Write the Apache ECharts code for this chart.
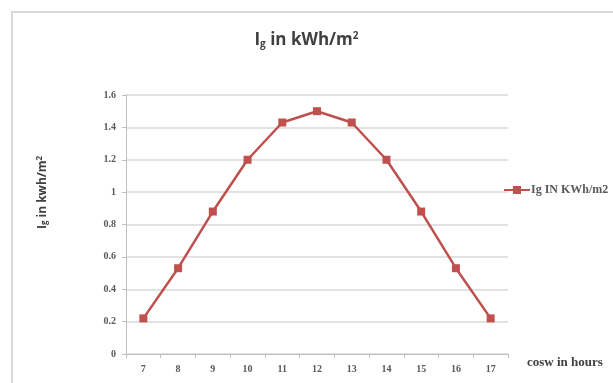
<!DOCTYPE html>
<html>
<head>
<meta charset="utf-8">
<script src="https://cdn.jsdelivr.net/npm/echarts@6/dist/echarts.min.js"></script>
<style>
	html, body { margin: 0; padding: 0; background: #fff; }
	#chart { width: 613px; height: 383px; }
</style>
</head>
<body>
<div id="chart"></div>
<script>
	// data
	var hours = ['7', '8', '9', '10', '11', '12', '13', '14', '15', '16', '17'];
	var igValues = [0.22, 0.53, 0.88, 1.20, 1.43, 1.50, 1.43, 1.20, 0.88, 0.53, 0.22];
	var seriesName = 'Ig IN KWh/m2';

	var myChart = echarts.init(document.getElementById('chart'));

	var serif = '"Liberation Serif", "DejaVu Serif", serif';
	var sans = '"Open Sans", "Noto Sans", sans-serif';

	var option = {
		animation: false,
		backgroundColor: '#fff',
		graphic: [{
			type: 'rect',
			shape: { x: 12, y: 12, width: 700, height: 500 },
			style: { fill: 'none', stroke: '#d9d9d9', lineWidth: 2 },
			silent: true
		}],
		title: {
			left: 'center',
			top: 26,
			text: '{b|I}{s|g}{b| in kWh/m}{p|2}',
			textStyle: {
				rich: {
					b: { fontFamily: sans, fontWeight: 'bold', fontSize: 17, color: '#404040' },
					s: { fontFamily: sans, fontWeight: 'bold', fontSize: 10, color: '#404040', verticalAlign: 'bottom', padding: [8, 0, 0, 0] },
					p: { fontFamily: sans, fontWeight: 'bold', fontSize: 10, color: '#404040', verticalAlign: 'top', padding: [0, 0, 8, 0] }
				}
			}
		},
		legend: {
			left: 498,
			top: 179,
			itemWidth: 26,
			itemHeight: 10,
			itemGap: 2,
			data: [seriesName],
			textStyle: { fontFamily: serif, fontWeight: 'bold', fontSize: 12, color: '#595959', padding: [0, 0, 0, -4] }
		},
		grid: {
			left: 126,
			right: 105,
			top: 95,
			bottom: 29,
			containLabel: false
		},
		xAxis: {
			type: 'category',
			data: hours,
			boundaryGap: true,
			name: 'cosw in hours',
			nameLocation: 'end',
			nameGap: 19,
			nameTextStyle: { fontFamily: serif, fontWeight: 'bold', fontSize: 13, color: '#404040', verticalAlign: 'top', padding: [2, 0, 0, 0] },
			axisLine: { lineStyle: { color: '#bfbfbf', width: 1 } },
			axisTick: { show: true, alignWithLabel: false, length: 4, lineStyle: { color: '#bfbfbf' } },
			axisLabel: { fontFamily: serif, fontWeight: 'bold', fontSize: 10, color: '#595959', margin: 10 },
			splitLine: { show: false }
		},
		yAxis: {
			type: 'value',
			min: 0,
			max: 1.6,
			interval: 0.2,
			name: '{b|I}{s|g}{b| in kwh/m}{p|2}',
			nameLocation: 'middle',
			nameGap: 77,
			nameRotate: 90,
			nameTextStyle: {
				padding: [0, 0, 0, 64],
				rich: {
					b: { fontFamily: sans, fontWeight: 'bold', fontSize: 12, color: '#404040' },
					s: { fontFamily: sans, fontWeight: 'bold', fontSize: 8, color: '#404040', verticalAlign: 'bottom', padding: [5, 0, 0, 0] },
					p: { fontFamily: sans, fontWeight: 'bold', fontSize: 8, color: '#404040', verticalAlign: 'top', padding: [0, 0, 5, 0] }
				}
			},
			axisLine: { show: true, lineStyle: { color: '#bfbfbf', width: 1 } },
			axisTick: { show: true, length: 4, lineStyle: { color: '#bfbfbf' } },
			axisLabel: {
				fontFamily: serif, fontWeight: 'bold', fontSize: 10, color: '#595959', margin: 10,
				formatter: function(v) { return String(Math.round(v * 10) / 10); }
			},
			splitLine: { show: true, lineStyle: { color: '#d9d9d9', width: 1.5 } }
		},
		series: [{
			name: seriesName,
			type: 'line',
			data: igValues,
			symbol: 'rect',
			symbolSize: 8,
			itemStyle: { color: '#c0504d' },
			lineStyle: { color: '#c0504d', width: 2.5 }
		}]
	};
	myChart.setOption(option);
</script>
</body>
</html>
